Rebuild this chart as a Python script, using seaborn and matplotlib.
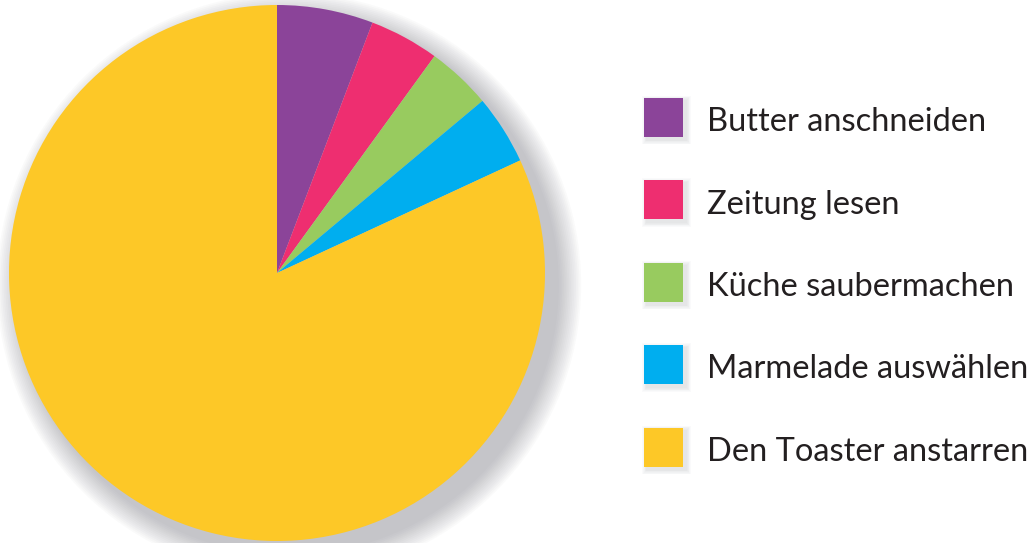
import numpy as np
import matplotlib
matplotlib.use("Agg")
import matplotlib.pyplot as plt
import seaborn as sns
from matplotlib.patches import Circle, Rectangle

# Daten
kategorien = ["Butter anschneiden", "Zeitung lesen", "Küche saubermachen",
              "Marmelade auswählen", "Den Toaster anstarren"]
anteile = [5.8, 4.2, 3.9, 4.2, 81.9]
farben = ["#8B4499", "#EE2E70", "#98CB5F", "#00AEEF", "#FDC827"]

sns.set_theme(style="white")
plt.rcParams["font.family"] = ["Lato", "DejaVu Sans"]

W, H = 1033, 543
fig = plt.figure(figsize=(W / 100, H / 100), dpi=100)

# Kreisdiagramm: Mittelpunkt (277, 273) px, Radius 268 px
cx, cy, r = 277, 273, 268
lim = 1.15
size = 2 * lim * r
ax = fig.add_axes([(cx - size / 2) / W, ((H - cy) - size / 2) / H, size / W, size / H])
ax.set_xlim(-lim, lim)
ax.set_ylim(-lim, lim)
ax.set_aspect("equal")
ax.axis("off")

# weicher Schatten
for i in range(14):
    rad = 1.0 + 0.09 * (1 - i / 14)
    ax.add_patch(Circle((0.045, -0.045), rad, color="#6d6f78", alpha=0.03, lw=0, zorder=0))

ax.pie(anteile, colors=farben, startangle=90, counterclock=False, radius=1.0,
       wedgeprops=dict(linewidth=0), frame=False)
ax.set_xlim(-lim, lim)
ax.set_ylim(-lim, lim)

# Legende
lax = fig.add_axes([0, 0, 1, 1])
lax.set_xlim(0, W)
lax.set_ylim(H, 0)
lax.axis("off")
y0, dy, box = 117, 82.5, 39
for i, (name, col) in enumerate(zip(kategorien, farben)):
    y = y0 + i * dy
    for k in range(6):
        pad = 2 + k * 1.5
        lax.add_patch(Rectangle((644 + 3 - pad / 2, y - box / 2 + 3 - pad / 2), box + pad, box + pad,
                                color="#7a7c85", alpha=0.03, lw=0))
    lax.add_patch(Rectangle((644, y - box / 2), box, box, color=col, lw=0))
    lax.text(707, y + 14, name, fontsize=23.5, color="#231f20", va="baseline", ha="left")

fig.savefig("out.png", dpi=100)
